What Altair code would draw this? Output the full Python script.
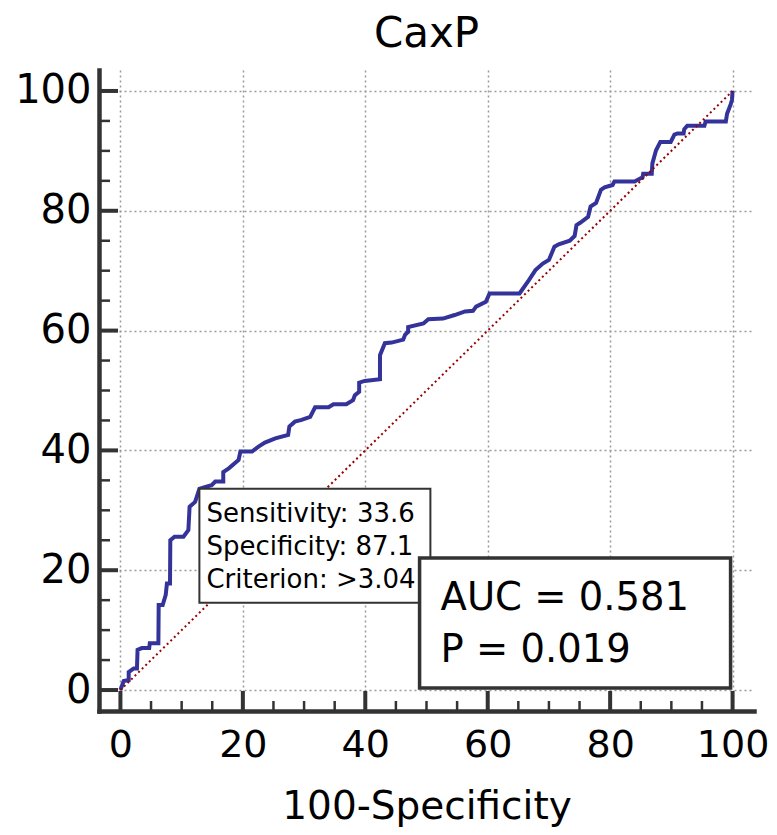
import altair as alt
import pandas as pd

# ROC curve (100-Specificity, Sensitivity)
fpr = [0, 0.54, 1.35, 1.35, 2.17, 2.7, 2.8, 3.5, 4.7, 4.8, 6.2, 6.25, 6.9, 7.4, 7.6,
       8.1, 8.15, 8.85, 10.3, 11.1, 11.3, 12.2, 12.9, 13.9, 14.9, 15.5, 16.8, 16.8,
       17.7, 19.3, 19.6, 21.5, 22.5, 23.6, 25.3, 27.4, 27.6, 28.5, 29.6, 31.0, 31.8,
       34.0, 34.8, 36.9, 38.0, 38.3, 39.0, 39.0, 39.9, 42.4, 42.4, 43.2, 44.3, 46.2,
       46.5, 47.0, 47.0, 49.5, 50.3, 52.7, 54.6, 56.3, 57.6, 58.1, 59.7, 60.3, 65.2,
       66.7, 67.8, 69.0, 70.0, 70.9, 71.6, 73.4, 74.2, 74.5, 75.1, 76.4, 76.8, 77.7,
       78.5, 79.1, 80.4, 80.7, 84.0, 85.3, 85.4, 86.8, 86.9, 87.5, 88.1, 88.2, 89.9,
       90.5, 91.0, 92.0, 92.1, 92.6, 95.4, 95.6, 98.9, 99.1, 99.7, 99.9, 100]
tpr = [0, 1.5, 1.67, 3.0, 3.6, 3.6, 6.7, 7.0, 7.0, 7.8, 7.8, 14.2, 14.2, 15.9, 17.8,
       17.8, 25.0, 25.6, 25.6, 26.7, 30.6, 31.4, 33.6, 33.9, 34.2, 34.8, 34.8, 36.4,
       37.0, 38.4, 39.8, 39.8, 40.6, 41.3, 42.0, 42.6, 44.0, 44.8, 45.1, 45.6, 47.2,
       47.2, 47.7, 47.7, 48.4, 49.2, 49.8, 51.3, 51.6, 51.9, 55.9, 57.9, 58.0, 58.5,
       59.3, 59.8, 60.6, 61.2, 61.9, 62.0, 62.6, 63.2, 63.3, 64.0, 64.8, 66.2, 66.2,
       68.4, 70.1, 71.2, 71.8, 74.0, 74.4, 75.0, 75.8, 77.6, 78.0, 79.0, 80.7, 81.3,
       83.5, 83.9, 84.3, 84.9, 84.9, 85.6, 86.2, 86.2, 87.9, 90.1, 91.3, 91.5, 91.5,
       92.7, 92.9, 92.9, 93.6, 94.2, 94.2, 94.9, 94.9, 96.2, 97.8, 98.5, 100]

diag_x = [0, 100]
diag_y = [0, 100]

major_ticks = [0, 20, 40, 60, 80, 100]
minor_ticks = [5, 10, 15, 25, 30, 35, 45, 50, 55, 65, 70, 75, 85, 90, 95]

crit_sens = 33.6
crit_spec = 87.1
criterion = ">3.04"
auc = 0.581
p_value = 0.019
title_text = "CaxP"
x_title = "100-Specificity"

FONT = "DejaVu Sans"
DARK = "#333333"
DOM = [-3.5, 103.5]

roc = pd.DataFrame({"x": fpr, "y": tpr, "i": list(range(len(fpr)))})
diag = pd.DataFrame({"x": diag_x, "y": diag_y})
maj = pd.DataFrame({"x": major_ticks})
mnr = pd.DataFrame({"x": minor_ticks})
maj_y = pd.DataFrame({"y": major_ticks})
mnr_y = pd.DataFrame({"y": minor_ticks})

xs = alt.Scale(domain=DOM, nice=False, zero=False)
ys = alt.Scale(domain=DOM, nice=False, zero=False)

common_axis = dict(values=major_ticks, labelFont=FONT, labelColor="black",
                   ticks=False, domainColor=DARK, domainWidth=4.5, domainCap="square",
                   grid=True, gridColor="#9a9a9a", gridDash=[2, 3], gridWidth=1.5,
                   labelFlush=False, labelOverlap=False)

xaxis = alt.Axis(title=x_title, titleFont=FONT, titleFontSize=39, titleFontWeight="normal",
                 titleColor="black", titleY=107, titleBaseline="alphabetic",
                 labelPadding=15, labelFontSize=38, **common_axis)
yaxis = alt.Axis(title=None, labelPadding=8, labelFontSize=40, **common_axis)

curve = alt.Chart(roc).mark_line(color="#333399", strokeWidth=4, strokeJoin="miter").encode(
    x=alt.X("x:Q", scale=xs, axis=xaxis),
    y=alt.Y("y:Q", scale=ys, axis=yaxis),
    order="i:Q",
)

diag_line = alt.Chart(diag).mark_line(color="#990000", strokeWidth=2, strokeDash=[2, 3]).encode(
    x=alt.X("x:Q"),
    y=alt.Y("y:Q"),
)

# inward ticks
h = 641
y_major = alt.Chart(maj_y).mark_rule(color=DARK, strokeWidth=4).encode(
    y=alt.Y("y:Q"), x=alt.value(0), x2=alt.value(19))
y_minor = alt.Chart(mnr_y).mark_rule(color=DARK, strokeWidth=2.5).encode(
    y=alt.Y("y:Q"), x=alt.value(0), x2=alt.value(11))
x_major = alt.Chart(maj).mark_rule(color=DARK, strokeWidth=4).encode(
    x=alt.X("x:Q"), y=alt.value(h), y2=alt.value(h - 20))
x_minor = alt.Chart(mnr).mark_rule(color=DARK, strokeWidth=2.5).encode(
    x=alt.X("x:Q"), y=alt.value(h), y2=alt.value(h - 10))

# criterion box anchored at the criterion point
cx = 100 - crit_spec
crit_df = pd.DataFrame({"x": [cx], "y": [crit_sens]})
box1 = alt.Chart(crit_df).mark_rect(
    fill="white", stroke=DARK, strokeWidth=2, x2Offset=231, y2Offset=114
).encode(x=alt.X("x:Q"), x2=alt.X2("x"), y=alt.Y("y:Q"), y2=alt.Y2("y"))
lines1 = [f"Sensitivity: {crit_sens}", f"Specificity: {crit_spec}", f"Criterion: {criterion}"]
text1 = alt.Chart(crit_df).mark_text(
    text=lines1, font=FONT, fontSize=26, color="black", align="left", baseline="alphabetic",
    dx=7, dy=33, lineHeight=33.3
).encode(x=alt.X("x:Q"), y=alt.Y("y:Q"))

# AUC box anchored at bottom-right corner (100, 0)
corner_df = pd.DataFrame({"x": [100], "y": [0]})
box2 = alt.Chart(corner_df).mark_rect(
    fill="white", stroke=DARK, strokeWidth=3.5, xOffset=-313, x2Offset=-2, yOffset=-132, y2Offset=-2
).encode(x=alt.X("x:Q"), x2=alt.X2("x"), y=alt.Y("y:Q"), y2=alt.Y2("y"))
lines2 = [f"AUC = {auc}", f"P = {p_value}"]
text2 = alt.Chart(corner_df).mark_text(
    text=lines2, font=FONT, fontSize=38.5, color="black", align="left", baseline="alphabetic",
    dx=-292, dy=-80, lineHeight=51.7
).encode(x=alt.X("x:Q"), y=alt.Y("y:Q"))

chart = alt.layer(
    curve, diag_line, y_major, y_minor, x_major, x_minor, box1, text1, box2, text2
).properties(
    width=655, height=641,
    title=alt.TitleParams(title_text, font=FONT, fontSize=42, fontWeight="normal", color="black",
                          anchor="middle", offset=14),
    padding={"left": 91, "top": 62, "right": 15, "bottom": 116},
    autosize=alt.AutoSizeParams(type="none"),
).configure_view(stroke=None)

chart.save("out.html", embed_options={"renderer": "svg", "actions": False})
